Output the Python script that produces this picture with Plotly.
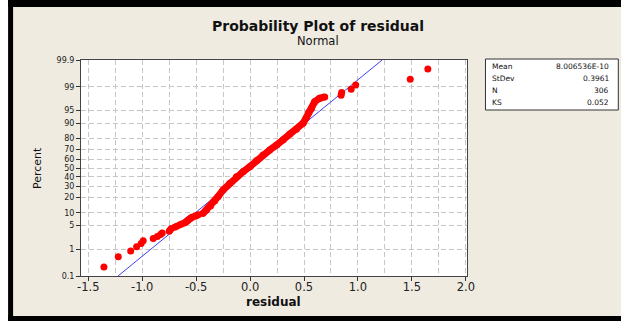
import math
import plotly.graph_objects as go

# ---------------- data ----------------
# isolated points of the lower tail: residual, cumulative percent
lower_resid = [-1.355, -1.222, -1.107, -1.052, -1.010, -0.991, -0.898, -0.860,
               -0.830, -0.815, -0.750, -0.742, -0.730, -0.700, -0.680, -0.655,
               -0.635, -0.610, -0.595, -0.585, -0.575, -0.565, -0.555, -0.545,
               -0.533, -0.510, -0.495, -0.481]
lower_pct = [0.23, 0.55, 0.88, 1.21, 1.53, 1.86, 2.19, 2.51, 2.84, 3.17, 3.49,
             3.82, 4.15, 4.47, 4.80, 5.12, 5.45, 5.78, 6.10, 6.43, 6.75, 7.08,
             7.41, 7.73, 8.06, 8.39, 8.71, 9.04]
# dense central band of points
band_resid = [-0.438, -0.404, -0.367, -0.327, -0.296, -0.250, -0.188, -0.126,
              -0.065, -0.003, 0.059, 0.120, 0.182, 0.247, 0.306, 0.368, 0.430,
              0.491, 0.522, 0.544, 0.569, 0.599, 0.645, 0.692]
band_pct = [9.6, 11.5, 13.9, 17.5, 20.8, 26.5, 33.1, 40.2, 45.8, 51.5, 58.3,
            64.5, 69.7, 74.5, 78.8, 83.5, 86.6, 90.0, 92.6, 94.5, 95.6, 97.1,
            97.7, 97.9]
# isolated points of the upper tail
upper_resid = [0.844, 0.849, 0.937, 0.979, 1.485, 1.648]
upper_pct = [98.14, 98.47, 98.79, 99.12, 99.45, 99.77]

stat_names = ["Mean", "StDev", "N", "KS"]
stat_values = ["8.006536E-10", "0.3961", "306", "0.052"]
fit_mean = 8.006536e-10
fit_sd = 0.3961

y_tick_pct = [0.1, 1, 5, 10, 20, 30, 40, 50, 60, 70, 80, 90, 95, 99, 99.9]
y_tick_text = ["0.1", "1", "5", "10", "20", "30", "40", "50", "60", "70",
               "80", "90", "95", "99", "99.9"]
x_tick_vals = [-1.5, -1.0, -0.5, 0.0, 0.5, 1.0, 1.5, 2.0]
x_tick_text = ["-1.5", "-1.0", "-0.5", "0.0", "0.5", "1.0", "1.5", "2.0"]
x_minor_vals = [-1.25, -0.75, -0.25, 0.25, 0.75, 1.25, 1.75]

title_text = "Probability Plot of residual"
subtitle_text = "Normal"
x_title = "residual"
y_title = "Percent"


# ---------------- normal probability scale ----------------
def norm_cdf(z):
    return 0.5 * (1.0 + math.erf(z / math.sqrt(2.0)))


def norm_ppf(p):
    lo, hi = -10.0, 10.0
    for _ in range(200):
        mid = 0.5 * (lo + hi)
        if norm_cdf(mid) < p:
            lo = mid
        else:
            hi = mid
    return 0.5 * (lo + hi)


def zs(pcts):
    return [norm_ppf(p / 100.0) for p in pcts]


# ---------------- layout geometry (pixels) ----------------
W, H = 621, 323
L, R, T, B = 81, 467.5, 60, 276
pw, ph = R - L, B - T


def fx(px):
    return (px - L) / pw


def fy(py):
    return (B - py) / ph


BG = "#EFEBE1"
FONT = "DejaVu Sans"

y_lo, y_hi = norm_ppf(0.001), norm_ppf(0.999)

fig = go.Figure()

# fitted normal line
fit_z = [y_lo, y_hi]
fig.add_trace(go.Scatter(
    x=[fit_mean + fit_sd * z for z in fit_z], y=fit_z, mode="lines",
    line=dict(color="#3f3ff5", width=1), hoverinfo="skip", showlegend=False))

red = "#FF0000"
fig.add_trace(go.Scatter(
    x=band_resid, y=zs(band_pct), mode="lines+markers",
    line=dict(color=red, width=7), marker=dict(color=red, size=7),
    showlegend=False))
fig.add_trace(go.Scatter(
    x=lower_resid, y=zs(lower_pct), mode="markers",
    marker=dict(color=red, size=7), showlegend=False))
fig.add_trace(go.Scatter(
    x=upper_resid, y=zs(upper_pct), mode="markers",
    marker=dict(color=red, size=7), showlegend=False))

grid = dict(gridcolor="#c6c6c6", gridwidth=1.3, griddash="5px,3px")

fig.update_xaxes(
    range=[-1.5 - (88.3 - L) / 108.0, -1.5 + (R - 88.3) / 108.0],
    tickmode="array", tickvals=x_tick_vals, ticktext=x_tick_text,
    ticks="outside", ticklen=4, tickcolor="#333", tickwidth=1,
    ticklabelstandoff=-4,
    showline=True, linecolor="#444", linewidth=1, mirror=True,
    showgrid=True, zeroline=False,
    tickfont=dict(family=FONT, size=11.5, color="#222"),
    minor=dict(tickvals=x_minor_vals, showgrid=True, ticks="", **grid),
    **grid)
fig.update_yaxes(
    range=[y_lo, y_hi],
    tickmode="array", tickvals=zs(y_tick_pct), ticktext=y_tick_text,
    ticks="outside", ticklen=4, tickcolor="#333", tickwidth=1,
    showline=True, linecolor="#444", linewidth=1, mirror=True,
    showgrid=True, zeroline=False,
    tickfont=dict(family=FONT, size=8, color="#222"),
    **grid)

shapes = [
    # white outside the frame
    dict(type="rect", xref="paper", yref="paper", x0=fx(-5), x1=fx(8),
         y0=fy(330), y1=fy(-5), fillcolor="white", line=dict(width=0)),
    dict(type="rect", xref="paper", yref="paper", x0=fx(-5), x1=fx(630),
         y0=fy(330), y1=fy(321), fillcolor="white", line=dict(width=0)),
    # black frame
    dict(type="rect", xref="paper", yref="paper", x0=fx(8), x1=fx(13),
         y0=fy(321), y1=fy(-5), fillcolor="black", line=dict(width=0)),
    dict(type="rect", xref="paper", yref="paper", x0=fx(8), x1=fx(630),
         y0=fy(7), y1=fy(-5), fillcolor="black", line=dict(width=0)),
    dict(type="rect", xref="paper", yref="paper", x0=fx(8), x1=fx(630),
         y0=fy(321), y1=fy(316), fillcolor="black", line=dict(width=0)),
    # statistics box
    dict(type="rect", xref="paper", yref="paper", x0=fx(486), x1=fx(619),
         y0=fy(110), y1=fy(59), fillcolor="white",
         line=dict(color="#333", width=1)),
]

ann = [
    dict(text="<b>" + title_text + "</b>", x=fx(318), y=fy(26),
         font=dict(family=FONT, size=14, color="#111"),
         xanchor="center", yanchor="middle"),
    dict(text=subtitle_text, x=fx(318), y=fy(41),
         font=dict(family=FONT, size=11.5, color="#111"),
         xanchor="center", yanchor="middle"),
    dict(text="<b>" + x_title + "</b>", x=fx(274), y=fy(302),
         font=dict(family=FONT, size=12, color="#111"), xanchor="center", yanchor="middle"),
    dict(text=y_title, x=fx(37), y=fy(168), textangle=-90,
         font=dict(family=FONT, size=11, color="#111"), xanchor="center", yanchor="middle"),
]
row_y = [66, 78, 90.5, 102.5]
for name, val, ry in zip(stat_names, stat_values, row_y):
    ann.append(dict(text=name, x=fx(491), y=fy(ry), xanchor="left", yanchor="middle",
                    font=dict(family=FONT, size=7.5, color="#111")))
    ann.append(dict(text=val, x=fx(612), y=fy(ry), xanchor="right", yanchor="middle",
                    font=dict(family=FONT, size=7.5, color="#111")))
for a in ann:
    a.update(xref="paper", yref="paper", showarrow=False)

fig.update_layout(
    width=W, height=H, autosize=False,
    margin=dict(l=L, r=W - R, t=T, b=H - B, pad=0),
    paper_bgcolor=BG, plot_bgcolor="white",
    shapes=shapes, annotations=ann, showlegend=False,
)

fig.write_html("out.html", config={"displayModeBar": False},
               post_script="document.body.style.margin='0px';"
                           "document.body.style.overflow='hidden';")
